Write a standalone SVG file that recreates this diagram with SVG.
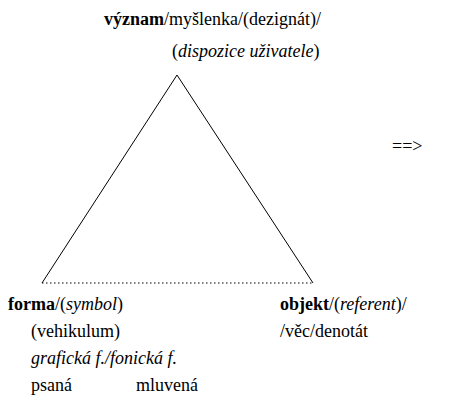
<svg xmlns="http://www.w3.org/2000/svg" width="452" height="412" viewBox="0 0 452 412">
<rect width="452" height="412" fill="#fff"/>
<g id="connectors" fill="none" stroke="#000" stroke-width="1">
<path d="M42,283 L177,75 L313,283"/>
<path d="M42,283 H313" stroke-dasharray="1.5,2.5"/>
</g>
<g id="vyznam">
<text x="104" y="25" style="font-family:'Liberation Serif',serif;font-size:18px"><tspan style="font-family:'Liberation Serif',serif;font-weight:bold">význam</tspan>/myšlenka/(dezignát)/</text>
<text x="172" y="57" style="font-family:'Liberation Serif',serif;font-size:18px">(<tspan style="font-family:'Liberation Serif',serif;font-style:italic">dispozice uživatele</tspan>)</text>
</g>
<g id="forma">
<text x="8" y="310" style="font-family:'Liberation Serif',serif;font-size:18px"><tspan style="font-family:'Liberation Serif',serif;font-weight:bold">forma</tspan>/(<tspan style="font-family:'Liberation Serif',serif;font-style:italic">symbol</tspan>)</text>
<text x="31" y="337" style="font-family:'Liberation Serif',serif;font-size:18px">(vehikulum)</text>
<text x="31" y="364" style="font-family:'Liberation Serif',serif;font-size:18px;font-style:italic">grafická f./fonická f.</text>
<text x="31" y="391" style="font-family:'Liberation Serif',serif;font-size:18px">psaná</text>
<text x="136" y="391" style="font-family:'Liberation Serif',serif;font-size:18px">mluvená</text>
</g>
<g id="objekt">
<text x="280" y="310" style="font-family:'Liberation Serif',serif;font-size:18px"><tspan style="font-family:'Liberation Serif',serif;font-weight:bold">objekt</tspan>/(<tspan style="font-family:'Liberation Serif',serif;font-style:italic">referent</tspan>)/</text>
<text x="280" y="337" style="font-family:'Liberation Serif',serif;font-size:18px">/věc/denotát</text>
</g>
<g id="arrow">
<text x="392" y="152" style="font-family:'Liberation Serif',serif;font-size:18px">==&gt;</text>
</g>
</svg>
